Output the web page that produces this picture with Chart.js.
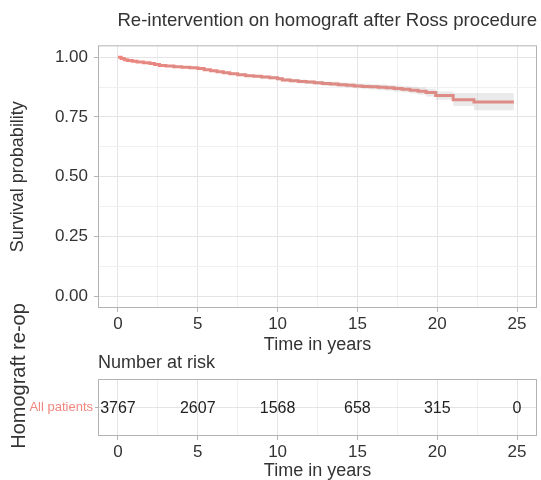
<!DOCTYPE html>
<html>
<head>
<meta charset="utf-8">
<script src="https://cdn.jsdelivr.net/npm/chart.js@4.4.1/dist/chart.umd.min.js"></script>
<style>
  body { margin: 0; background: #fff; overflow: hidden; }
  #wrap { position: relative; width: 541px; height: 480px; }
  canvas { position: absolute; left: 0; }
  #km { top: 0; }
  #risk { top: 280px; }
</style>
</head>
<body>
<div id="wrap">
  <canvas id="km" width="541" height="360"></canvas>
  <canvas id="risk" width="541" height="200"></canvas>
</div>
<script>
// KM estimate (years, survival, CI)
const timeYears = [0, 0.2, 0.4, 0.6, 0.9, 1.2, 1.6, 2.0, 2.3, 2.6, 3.0, 3.5, 4.0, 4.5, 5.0,
  5.4, 5.8, 6.2, 6.6, 7.0, 7.5, 8.0, 8.5, 9.0, 9.5, 10.0, 10.3, 10.8, 11.3, 11.8,
  12.3, 12.8, 13.3, 13.8, 14.3, 14.8, 15.3, 15.8, 16.3, 16.8, 17.3, 17.8, 18.3, 18.8, 19.3,
  19.9, 21.0, 22.3, 24.8];
const survival = [1.000, 0.995, 0.990, 0.986, 0.983, 0.980, 0.977, 0.974, 0.970, 0.966,
  0.963, 0.960, 0.958, 0.956, 0.953, 0.948, 0.943, 0.939, 0.935, 0.931,
  0.927, 0.923, 0.920, 0.917, 0.914, 0.910, 0.905, 0.902, 0.899, 0.896,
  0.893, 0.890, 0.888, 0.885, 0.883, 0.880, 0.878, 0.876, 0.874, 0.872,
  0.869, 0.866, 0.862, 0.858, 0.852, 0.840, 0.822, 0.813, 0.813];
const survUpper = [1.000, 0.997, 0.992, 0.988, 0.985, 0.983, 0.980, 0.977, 0.973, 0.969,
  0.967, 0.964, 0.962, 0.960, 0.957, 0.953, 0.948, 0.944, 0.940, 0.936,
  0.933, 0.929, 0.926, 0.923, 0.921, 0.917, 0.912, 0.909, 0.907, 0.904,
  0.901, 0.899, 0.897, 0.894, 0.893, 0.890, 0.889, 0.887, 0.886, 0.884,
  0.882, 0.879, 0.876, 0.873, 0.868, 0.857, 0.850, 0.850, 0.850];
const survLower = [1.000, 0.993, 0.988, 0.984, 0.981, 0.977, 0.974, 0.971, 0.967, 0.963,
  0.959, 0.956, 0.954, 0.952, 0.949, 0.943, 0.938, 0.934, 0.930, 0.926,
  0.921, 0.917, 0.914, 0.911, 0.907, 0.903, 0.898, 0.895, 0.891, 0.888,
  0.885, 0.881, 0.879, 0.876, 0.873, 0.870, 0.867, 0.865, 0.862, 0.860,
  0.856, 0.853, 0.848, 0.843, 0.836, 0.822, 0.796, 0.778, 0.778];

// risk table
const riskTimes = [0, 5, 10, 15, 20, 25];
const riskCounts = [3767, 2607, 1568, 658, 315, 0];
const riskGroup = 'All patients';

// tick positions (majors get labels, the in-between ones are just grid)
const xTicks = [0, 2.5, 5, 7.5, 10, 12.5, 15, 17.5, 20, 22.5, 25];
const yTicks = [0, 0.125, 0.25, 0.375, 0.5, 0.625, 0.75, 0.875, 1];

const FONT = "'Liberation Sans', Arial, sans-serif";
const TXT = '#333333';
const SALMON = '#F0867E';
const GRID_MAJOR = '#E4E4E4';
const GRID_MINOR = '#F0F0F0';
const FRAME = '#B3B3B3';

const isMajorX = v => v != null && Math.abs(v / 5 - Math.round(v / 5)) < 1e-9;
const isMajorY = v => v != null && Math.abs(v * 4 - Math.round(v * 4)) < 1e-9;

const pts = ys => timeYears.map((t, i) => ({ x: t, y: ys[i] }));

// full box round the panel, like theme_light
const panelBorder = {
  id: 'panelBorder',
  afterDatasetsDraw(chart) {
    const { ctx, chartArea: a } = chart;
    ctx.save();
    ctx.strokeStyle = FRAME;
    ctx.lineWidth = 1;
    ctx.strokeRect(a.left + 0.5, a.top + 0.5, a.right - a.left - 1, a.bottom - a.top - 1);
    ctx.restore();
  }
};

function xScale(titleBottomPad) {
  return {
    type: 'linear',
    min: -1.25,
    max: 26.25,
    afterBuildTicks: s => { s.ticks = xTicks.map(v => ({ value: v })); },
    afterFit: s => { s.height = s.chart.height - (s.chart.id === 0 ? 308 : 156); },
    border: { display: false },
    grid: {
      color: c => isMajorX(c.tick && c.tick.value) ? GRID_MAJOR : GRID_MINOR,
      tickColor: c => isMajorX(c.tick && c.tick.value) ? FRAME : 'rgba(0,0,0,0)',
      tickLength: 4,
      lineWidth: 1
    },
    ticks: {
      autoSkip: false,
      maxRotation: 0,
      padding: 2,
      color: TXT,
      font: { family: FONT, size: 17 },
      callback: v => isMajorX(v) ? String(v) : ''
    },
    title: {
      display: true,
      text: 'Time in years',
      color: TXT,
      font: { family: FONT, size: 18 },
      padding: { top: 0, bottom: titleBottomPad }
    }
  };
}

new Chart(document.getElementById('km'), {
  type: 'line',
  data: {
    datasets: [
      {
        label: 'upper',
        data: pts(survUpper),
        stepped: true,
        borderWidth: 0,
        pointRadius: 0,
        fill: false
      },
      {
        label: 'lower',
        data: pts(survLower),
        stepped: true,
        borderWidth: 0,
        pointRadius: 0,
        fill: '-1',
        backgroundColor: 'rgba(160,160,160,0.22)'
      },
      {
        label: 'All patients',
        data: pts(survival),
        stepped: true,
        borderColor: SALMON,
        borderWidth: 3,
        pointRadius: 0,
        fill: false
      }
    ]
  },
  options: {
    responsive: false,
    animation: false,
    events: [],
    layout: { padding: { top: 0, right: 4, left: 0, bottom: 0 } },
    plugins: {
      legend: { display: false },
      tooltip: { enabled: false },
      title: {
        display: true,
        text: 'Re-intervention on homograft after Ross procedure',
        align: 'end',
        color: TXT,
        font: { family: FONT, size: 18.6, weight: 'normal', lineHeight: 1.2 },
        padding: { top: 10, bottom: 13 }
      }
    },
    scales: {
      x: xScale(4),
      y: {
        type: 'linear',
        min: -0.05,
        max: 1.05,
        afterBuildTicks: s => { s.ticks = yTicks.map(v => ({ value: v })); },
        afterFit: s => { s.width = 98; },
        border: { display: false },
        grid: {
          color: c => isMajorY(c.tick && c.tick.value) ? GRID_MAJOR : GRID_MINOR,
          tickColor: c => isMajorY(c.tick && c.tick.value) ? FRAME : 'rgba(0,0,0,0)',
          tickLength: 4
        },
        ticks: {
          padding: 6,
          color: TXT,
          font: { family: FONT, size: 17 },
          callback: v => isMajorY(v) ? v.toFixed(2) : ''
        },
        title: {
          display: true,
          text: 'Survival probability',
          color: TXT,
          font: { family: FONT, size: 18 },
          padding: { top: 7, bottom: 0 }
        }
      }
    }
  },
  plugins: [panelBorder]
});

// numbers in the risk table + the two loose labels of that panel
const riskText = {
  id: 'riskText',
  afterDatasetsDraw(chart) {
    const { ctx } = chart;
    const meta = chart.getDatasetMeta(0);
    ctx.save();
    ctx.fillStyle = '#222';
    ctx.font = '16px ' + FONT;
    ctx.textAlign = 'center';
    ctx.textBaseline = 'middle';
    meta.data.forEach((p, i) => ctx.fillText(String(riskCounts[i]), p.x, p.y + 1));

    ctx.fillStyle = TXT;
    ctx.font = '18px ' + FONT;
    ctx.textAlign = 'left';
    ctx.fillText('Number at risk', chart.chartArea.left, 83);

    ctx.font = '20px ' + FONT;
    ctx.translate(19, 96);
    ctx.rotate(-Math.PI / 2);
    ctx.textAlign = 'center';
    ctx.fillText('Homograft re-op', 0, 0);
    ctx.restore();
  }
};

new Chart(document.getElementById('risk'), {
  type: 'scatter',
  data: {
    datasets: [{
      label: riskGroup,
      data: riskTimes.map(t => ({ x: t, y: 1 })),
      pointRadius: 0
    }]
  },
  options: {
    responsive: false,
    animation: false,
    events: [],
    layout: { padding: { top: 99, right: 4, left: 0, bottom: 0 } },
    plugins: { legend: { display: false }, tooltip: { enabled: false } },
    scales: {
      x: xScale(-2),
      y: {
        type: 'linear',
        min: 0,
        max: 2,
        afterBuildTicks: s => { s.ticks = [{ value: 1 }]; },
        afterFit: s => { s.width = 98; },
        border: { display: false },
        grid: { color: GRID_MAJOR, tickColor: FRAME, tickLength: 3 },
        ticks: {
          padding: 2,
          color: SALMON,
          font: { family: FONT, size: 13 },
          callback: () => riskGroup
        }
      }
    }
  },
  plugins: [panelBorder, riskText]
});
</script>
</body>
</html>
